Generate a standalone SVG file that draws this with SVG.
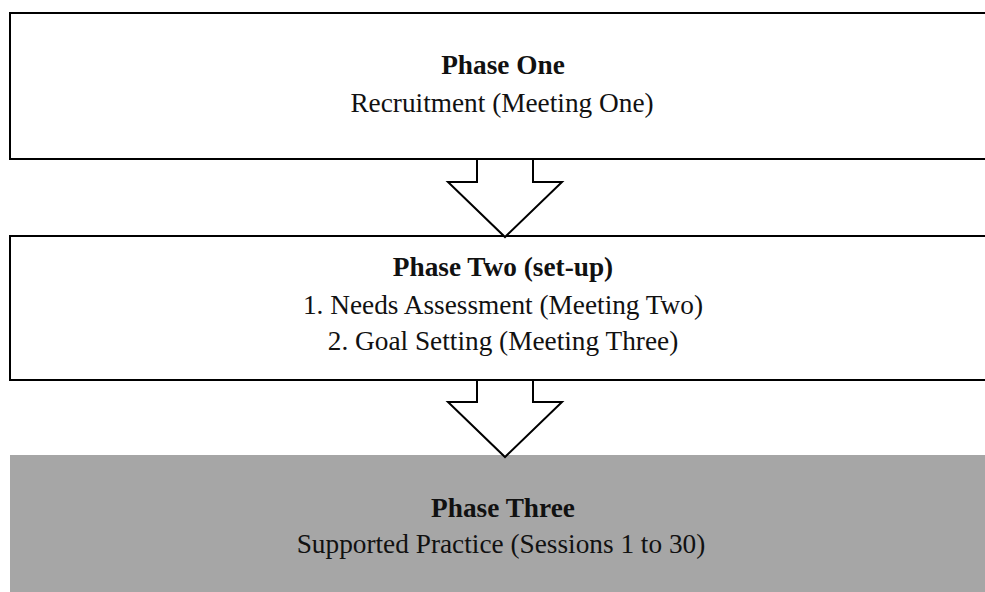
<svg xmlns="http://www.w3.org/2000/svg" width="985" height="592" viewBox="0 0 985 592">
  <style>
    .box { fill: #ffffff; stroke: #000000; stroke-width: 2; }
    .box-shaded { fill: #a6a6a6; stroke: none; }
    .arrow { fill: #ffffff; stroke: #000000; stroke-width: 2; stroke-linejoin: miter; }
    text { font-family: "Liberation Serif", "Times New Roman", serif; font-size: 27.3px; fill: #111111; text-anchor: middle; }
    .title { font-weight: bold; }
  </style>
  <rect width="985" height="592" fill="#ffffff"/>

  <g id="phase-one">
    <rect class="box" x="10" y="13" width="990" height="146"/>
    <text class="title" x="503" y="74">Phase One</text>
    <text x="502" y="112">Recruitment (Meeting One)</text>
  </g>

  <g id="phase-two">
    <rect class="box" x="10" y="236" width="990" height="144"/>
    <text class="title" x="503" y="276">Phase Two (set-up)</text>
    <text x="503" y="314">1. Needs Assessment (Meeting Two)</text>
    <text x="503" y="350">2. Goal Setting (Meeting Three)</text>
  </g>

  <g id="phase-three">
    <rect class="box-shaded" x="10" y="455" width="990" height="150"/>
    <text class="title" x="503" y="517">Phase Three</text>
    <text x="501" y="553">Supported Practice (Sessions 1 to 30)</text>
  </g>

  <g id="connectors">
    <polygon class="arrow" points="477,159 533,159 533,182 562,182 505,237 448,182 477,182"/>
    <polygon class="arrow" points="477,380 533,380 533,402 562,402 505,457 448,402 477,402"/>
  </g>
</svg>
